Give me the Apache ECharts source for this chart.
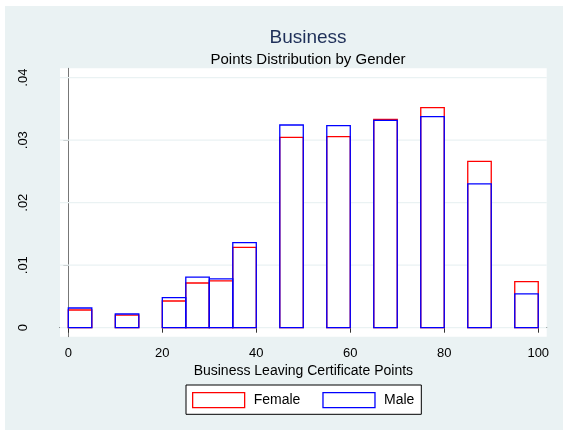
<!DOCTYPE html>
<html>
<head>
<meta charset="utf-8">
<script src="https://cdn.jsdelivr.net/npm/echarts@6/dist/echarts.min.js"></script>
<style>
  html, body { margin: 0; padding: 0; background: #fff; }
  #chart { width: 563px; height: 430px; }
</style>
</head>
<body>
<div id="chart"></div>
<script>
// histogram bins (points), density per bin
const binStart = [0, 10, 20, 25, 30, 35, 45, 55, 65, 75, 85, 95];
const binEnd = [5, 15, 25, 30, 35, 40, 50, 60, 70, 80, 90, 100];
const female = [0.00283, 0.0020, 0.00427, 0.00715, 0.0075, 0.01286, 0.03046, 0.03056, 0.03334, 0.0352, 0.02662, 0.00736];
const male = [0.00315, 0.00219, 0.0048, 0.0081, 0.0078, 0.0136, 0.03243, 0.03232, 0.03318, 0.03376, 0.0230, 0.0054];
const xTicks = [0, 20, 40, 60, 80, 100];
const yTicks = [0, 0.01, 0.02, 0.03, 0.04];

const X_MIN = -1.77, X_MAX = 101.8;
const FONT = '"Liberation Sans", Arial, sans-serif';

function barData(vals) {
  return vals.map((v, i) => [binStart[i], binEnd[i], v]);
}

function outlineBars(color, fill) {
  return function (params, api) {
    const a = api.coord([api.value(0), api.value(2)]);
    const b = api.coord([api.value(1), 0]);
    return {
      type: 'rect',
      shape: { x: a[0], y: a[1], width: b[0] - a[0], height: b[1] - a[1] },
      style: { fill: fill, stroke: color, lineWidth: 1.3 }
    };
  };
}

const chart = echarts.init(document.getElementById('chart'));
chart.setOption({
  animation: false,
  backgroundColor: '#fff',
  textStyle: { fontFamily: FONT },
  graphic: {
    elements: [
      { type: 'rect', z: -100, shape: { x: 5, y: 6, width: 558, height: 424 }, style: { fill: '#eaf2f3' } }
    ]
  },
  title: [
    {
      text: 'Business', left: 303, top: 23, textAlign: 'center',
      textStyle: { fontSize: 19, fontWeight: 'normal', color: '#1f3059', fontFamily: FONT }
    },
    {
      text: 'Points Distribution by Gender', left: 303, top: 47, textAlign: 'center',
      textStyle: { fontSize: 15, fontWeight: 'normal', color: '#000', fontFamily: FONT }
    }
  ],
  grid: {
    left: 60, right: 16.3, top: 68.3, bottom: 93.3,
    show: true, backgroundColor: '#fff', borderWidth: 0
  },
  legend: {
    left: 186, top: 385,
    padding: [7, 7, 6, 6],
    itemGap: 22, itemWidth: 52, itemHeight: 15,
    backgroundColor: '#fff', borderColor: '#000', borderWidth: 1,
    textStyle: { fontSize: 14, color: '#000', fontFamily: FONT, padding: [0, 0, 0, 4] },
    data: [
      { name: 'Female', icon: 'rect', itemStyle: { color: '#fff', borderColor: '#ff0000', borderWidth: 1.3 } },
      { name: 'Male', icon: 'rect', itemStyle: { color: '#fff', borderColor: '#0000ff', borderWidth: 1.3 } }
    ]
  },
  xAxis: {
    type: 'value', min: X_MIN, max: X_MAX,
    name: 'Business Leaving Certificate Points',
    nameLocation: 'middle', nameGap: 24,
    nameTextStyle: { fontSize: 14, color: '#000', fontFamily: FONT },
    axisLine: { show: true, lineStyle: { color: '#000', width: 1 } },
    axisTick: { show: true, customValues: xTicks, length: 5, lineStyle: { color: '#333' } },
    axisLabel: { customValues: xTicks, fontSize: 13, color: '#000', margin: 10, fontFamily: FONT },
    splitLine: { show: false }
  },
  yAxis: {
    type: 'value', min: -0.00144, max: 0.0415,
    axisLine: { show: true, lineStyle: { color: '#777', width: 1 } },
    axisTick: { show: true, customValues: yTicks, length: 5, lineStyle: { color: '#777' } },
    axisLabel: {
      customValues: yTicks, rotate: 90, fontSize: 13, color: '#000', margin: 30, fontFamily: FONT,
      formatter: v => (v === 0 ? '0' : String(Number(v.toFixed(2))).replace(/^0/, ''))
    },
    splitLine: { show: false }
  },
  series: [
    {
      type: 'custom', name: 'grid', silent: true, z: 1,
      data: yTicks.map(v => [v]),
      renderItem: function (params, api) {
        const a = api.coord([X_MIN, api.value(0)]);
        const b = api.coord([X_MAX, api.value(0)]);
        return {
          type: 'line',
          shape: { x1: a[0], y1: a[1], x2: b[0], y2: b[1] },
          style: { stroke: '#eaf2f3', lineWidth: 1.2 }
        };
      }
    },
    { type: 'custom', name: 'Female', z: 2, data: barData(female), renderItem: outlineBars('#ff0000', '#fff') },
    { type: 'custom', name: 'Male', z: 3, data: barData(male), renderItem: outlineBars('#0000ff', 'none') }
  ]
});
</script>
</body>
</html>
